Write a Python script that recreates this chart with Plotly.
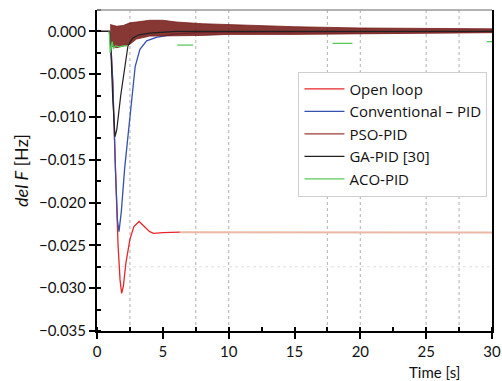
import plotly.graph_objects as go

# ---- data ----
ol_t = [0, 0.95, 1.05, 1.2, 1.4, 1.6, 1.75, 1.87, 2.0, 2.2, 2.5, 2.8, 3.2, 3.6, 4.0, 4.3, 5.0, 6.3]
ol_v = [0, 0, -0.0015, -0.006, -0.016, -0.025, -0.029, -0.0306, -0.0298, -0.027, -0.0243, -0.0228,
        -0.0222, -0.0228, -0.0234, -0.0236, -0.0235, -0.02345]
ol_tail_t = [6.3, 30]
ol_tail_v = [-0.02345, -0.0235]

cpid_t = [0, 0.95, 1.05, 1.2, 1.4, 1.55, 1.67, 1.85, 2.1, 2.5, 2.9, 3.26, 3.77, 4.5, 6.0, 8.0, 30]
cpid_v = [0, 0, -0.0015, -0.006, -0.016, -0.022, -0.0234, -0.021, -0.016, -0.0099, -0.0041,
          -0.0021, -0.0011, -0.0007, -0.0003, -0.0001, 0]

pso_t = [1.0, 1.5, 2.0, 2.5, 3.0, 4.0, 5.0, 6.0, 8.0, 10.0, 12.0, 15.0, 20.0, 25.0, 30.0]
pso_up = [0.0008, 0.0006, 0.0007, 0.0010, 0.0011, 0.0013, 0.0013, 0.0011, 0.0009, 0.0008,
          0.0007, 0.00055, 0.0004, 0.00035, 0.0003]
pso_lo = [-0.0017, -0.0019, -0.0017, -0.0015, -0.0009, -0.00055, -0.00055, -0.0005, -0.00047,
          -0.00035, -0.00035, -0.00035, -0.00023, -0.00023, -0.00015]

ga_t = [0, 0.95, 1.05, 1.2, 1.37, 1.5, 1.8, 2.1, 2.35, 2.7, 3.2, 4.0, 6.0, 30]
ga_v = [0, 0, -0.002, -0.008, -0.0123, -0.0115, -0.0075, -0.004, -0.0017, -0.0008, -0.0004,
        -0.0002, 0, 0]

aco_t = [0.9, 0.95, 1.0, 1.05, 1.15, 1.25, 1.4, 1.7, 2.0, 2.3, None, 6.1, 7.3, None, 17.9, 19.4, None, 29.6, 30]
aco_v = [0, -0.0005, -0.0025, -0.0022, -0.0012, -0.002, -0.0017, -0.0018, -0.0017, -0.0017, None,
         -0.0016, -0.0016, None, -0.0014, -0.0014, None, -0.0012, -0.0012]

grid_x = [2.5, 7.5, 10, 17.5, 20, 25, 27.5]
grid_y = [-0.0275]

fig = go.Figure()

fig.add_trace(go.Scatter(x=ol_tail_t, y=ol_tail_v, mode="lines", showlegend=False,
                         line=dict(color="#e9b9a6", width=2), hoverinfo="skip"))
fig.add_trace(go.Scatter(x=ol_t, y=ol_v, mode="lines", name="Open loop",
                         line=dict(color="#e8262a", width=1.3)))
fig.add_trace(go.Scatter(x=cpid_t, y=cpid_v, mode="lines", name="Conventional \u2013 PID",
                         line=dict(color="#3650b0", width=1.3)))
# PSO-PID: dense oscillation drawn as its envelope band
fig.add_trace(go.Scatter(x=pso_t + pso_t[::-1], y=pso_up + pso_lo[::-1], mode="lines",
                         fill="toself", fillcolor="rgba(118,28,24,0.88)", showlegend=False,
                         line=dict(color="rgba(110,18,16,0.9)", width=0.8), hoverinfo="skip"))
fig.add_trace(go.Scatter(x=[None], y=[None], mode="lines", name="PSO-PID",
                         line=dict(color="#9e3a3a", width=1.3)))
fig.add_trace(go.Scatter(x=ga_t, y=ga_v, mode="lines", name="GA-PID [30]",
                         line=dict(color="#222222", width=1.2)))
fig.add_trace(go.Scatter(x=aco_t, y=aco_v, mode="lines", name="ACO-PID",
                         line=dict(color="#5cc85c", width=1.3)))

shapes = []
for gx in grid_x:
    shapes.append(dict(type="line", xref="x", yref="paper", x0=gx, x1=gx, y0=0, y1=1, layer="below",
                       line=dict(color="#bdbdbd", width=1.2, dash="dot")))
for gy in grid_y:
    shapes.append(dict(type="line", xref="paper", yref="y", x0=0, x1=1, y0=gy, y1=gy, layer="below",
                       line=dict(color="#e0e0e0", width=1, dash="dot")))
shapes.append(dict(type="line", xref="paper", yref="paper", x0=0, x1=1, y0=1, y1=1,
                   line=dict(color="#9a9a9a", width=1.5)))

font = "Lato, Open Sans, sans-serif"
fig.update_layout(
    width=502, height=381,
    margin=dict(l=97, r=10, t=10, b=50),
    paper_bgcolor="white", plot_bgcolor="white",
    font=dict(family=font, size=15, color="#111"),
    shapes=shapes,
    legend=dict(x=0.51, y=0.808, xanchor="left", yanchor="top", bgcolor="white",
                bordercolor="#cfcfcf", borderwidth=1,
                font=dict(family="Open Sans, sans-serif", size=15),
                tracegroupgap=0, itemwidth=40),
    annotations=[dict(text="Time [s]", xref="paper", yref="paper", x=0.925, y=-0.095,
                      xanchor="right", yanchor="top", showarrow=False, font=dict(size=15))],
    xaxis=dict(range=[0, 30], dtick=5, tick0=0, ticks="outside", ticklen=6, tickwidth=2,
               tickcolor="black", showline=True, linecolor="black", linewidth=2,
               showgrid=False, zeroline=False, automargin=False,
               minor=dict(dtick=2.5, ticks="inside", ticklen=4, tickwidth=1.5, tickcolor="black")),
    yaxis=dict(range=[-0.035, 0.0025], dtick=0.005, tick0=0, tickformat=".3f", ticks="outside",
               ticklen=6, tickwidth=2, tickcolor="black", showline=True, linecolor="black",
               linewidth=2, mirror=True, showgrid=False, zeroline=False, automargin=False,
               title=dict(text="<i>del F</i> [Hz]", standoff=6),
               minor=dict(dtick=0.0025, ticks="inside", ticklen=4, tickwidth=1.5, tickcolor="black")),
)

fig.write_html("out.html", config={"displayModeBar": False},
               post_script="document.body.style.margin='0px';")
